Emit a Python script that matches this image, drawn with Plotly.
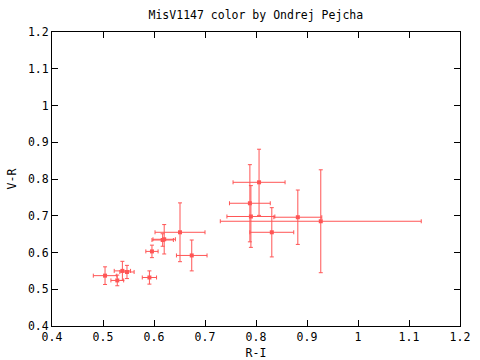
import plotly.graph_objects as go

# R-I (x), V-R (y) with errors
ri = [0.504, 0.528, 0.538, 0.547, 0.591, 0.596, 0.617, 0.620, 0.651, 0.674,
      0.806, 0.788, 0.790, 0.927, 0.831, 0.882]
ri_err = [0.023, 0.0125, 0.016, 0.014, 0.014, 0.012, 0.021, 0.022, 0.049, 0.030,
          0.051, 0.040, 0.047, 0.197, 0.043, 0.047]
vr = [0.537, 0.524, 0.550, 0.547, 0.532, 0.603, 0.634, 0.636, 0.655, 0.592,
      0.791, 0.734, 0.698, 0.685, 0.655, 0.696]
vr_err = [0.024, 0.0145, 0.026, 0.018, 0.018, 0.017, 0.017, 0.040, 0.080, 0.042,
          0.090, 0.105, 0.084, 0.140, 0.067, 0.074]

red = "#ff5555"
font = "DejaVu Sans Mono"

fig = go.Figure()
fig.add_trace(go.Scatter(
    x=ri, y=vr, mode="markers",
    marker=dict(symbol="square", size=4, color=red),
    error_x=dict(type="data", array=ri_err, color=red, thickness=1, width=2),
    error_y=dict(type="data", array=vr_err, color=red, thickness=1, width=2),
    showlegend=False,
))

axis_common = dict(
    showgrid=False, zeroline=False, showline=True, linecolor="black", linewidth=1,
    mirror="ticks", ticks="inside", ticklen=6, tickcolor="black", tickwidth=1,
    tickfont=dict(family=font, size=11.5, color="black"), automargin=False,
)
fig.update_xaxes(range=[0.4, 1.2], dtick=0.1, tick0=0.4,
                 title=dict(text="R-I", font=dict(family=font, size=11.5, color="black"), standoff=6),
                 **axis_common)
fig.update_yaxes(range=[0.4, 1.2], dtick=0.1, tick0=0.4,
                 title=dict(text="V-R", font=dict(family=font, size=11.5, color="black"), standoff=8),
                 **axis_common)

fig.update_layout(
    width=480, height=360,
    margin=dict(l=52, r=20, t=32, b=34),
    paper_bgcolor="white", plot_bgcolor="white",
    title=dict(text="MisV1147 color by Ondrej Pejcha", x=0.533, xanchor="center",
               y=0.958, yanchor="middle",
               font=dict(family=font, size=11.5, color="black")),
)

fig.write_html("out.html", config={"displayModeBar": False},
               post_script="document.body.style.margin='0';document.body.style.padding='0';")
